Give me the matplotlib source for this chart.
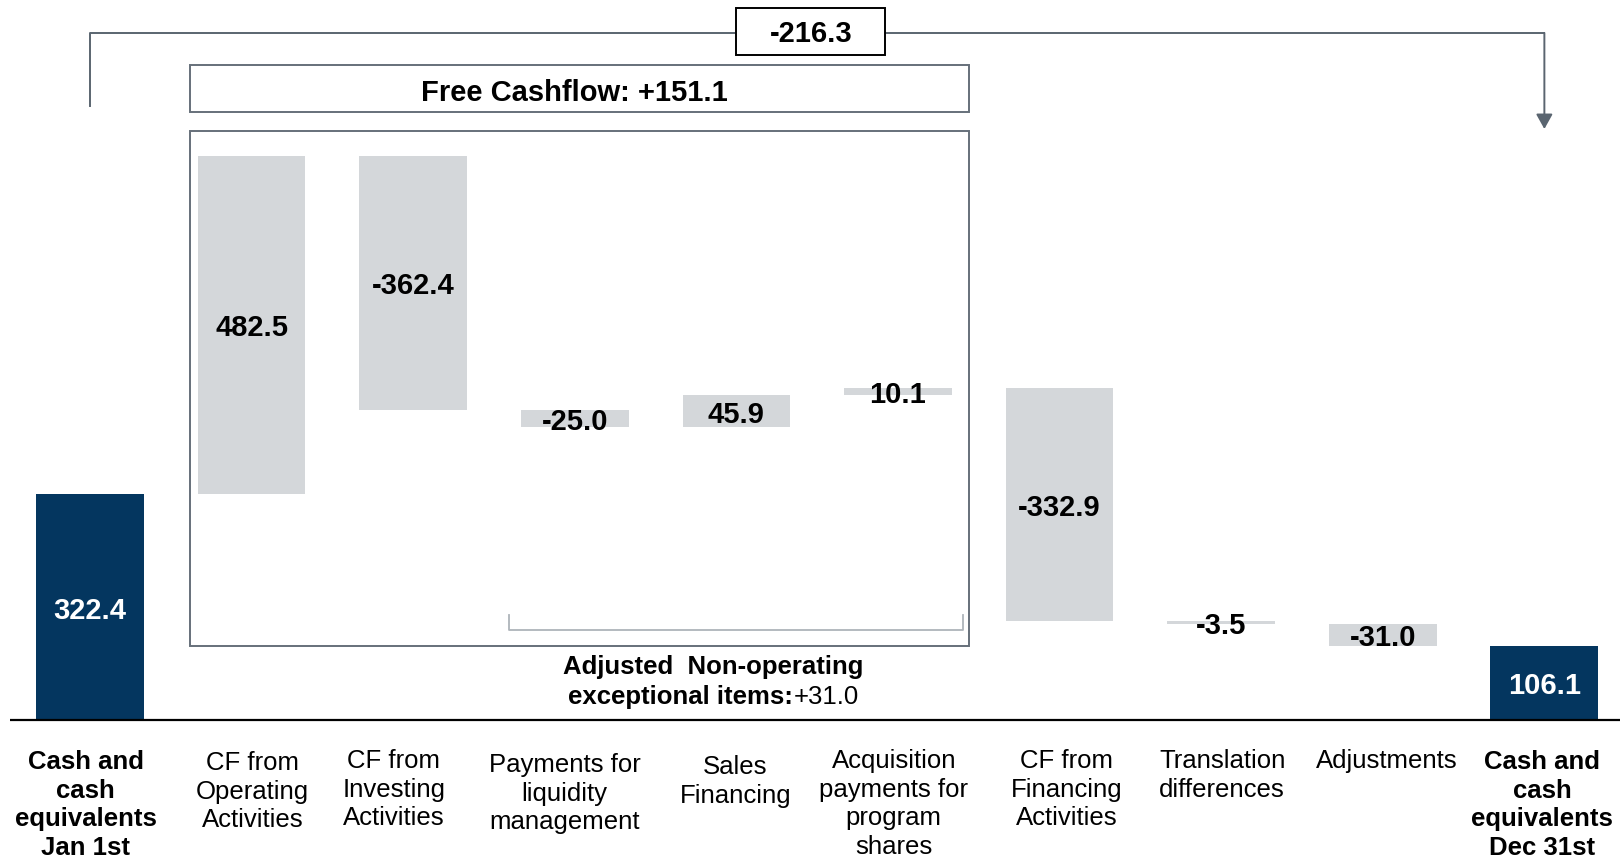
import numpy as np
import matplotlib
matplotlib.use("Agg")
import matplotlib.pyplot as plt
from matplotlib.patches import Rectangle

plt.rcParams['font.family'] = ['Liberation Sans', 'DejaVu Sans']

# ---- data ----
categories = [
    "Cash and\ncash\nequivalents\nJan 1st",
    "CF from\nOperating\nActivities",
    "CF from\nInvesting\nActivities",
    "Payments for\nliquidity\nmanagement",
    "Sales\nFinancing",
    "Acquisition\npayments for\nprogram\nshares",
    "CF from\nFinancing\nActivities",
    "Translation\ndifferences",
    "Adjustments",
    "Cash and\ncash\nequivalents\nDec 31st",
]
values = [322.4, 482.5, -362.4, -25.0, 45.9, 10.1, -332.9, -3.5, -31.0, 106.1]
is_total = [True, False, False, False, False, False, False, False, False, True]
free_cashflow = 151.1
non_operating = 31.0
net_change = -216.3

# ---- styles / layout ----
NAVY = "#04365F"
GREY = "#D4D7DA"
EDGE = "#66707A"
ARROW = "#5A6570"
BRACKET = "#AEB4BA"
label_dx = [-0.026, 0.006, -0.12, -0.064, -0.006, -0.026, 0.045, 0.006, 0.026, -0.013]
label_dy = [0, -1.5, 1.5, -4.5, -7.5, 1.5, 1.5, 1.5, 1.5, 0]

fig = plt.figure(figsize=(16.2, 8.61), dpi=100)
ax = fig.add_axes([0, 0, 1, 1])
ax.axis('off')
ax.set_xlim(-0.557, 9.468)
ax.set_ylim(-201, 1027)

# waterfall geometry
x = np.arange(len(values))
bottoms, heights, colors = [], [], []
running = 0.0
for v, tot in zip(values, is_total):
    if tot:
        bottoms.append(0.0)
        heights.append(v)
        colors.append(NAVY)
        running = v
    else:
        bottoms.append(running if v >= 0 else running + v)
        heights.append(abs(v))
        colors.append(GREY)
        running += v
bottoms = np.array(bottoms)
heights = np.array(heights)

W = 0.667
ax.bar(x, heights, bottom=bottoms, width=W, color=colors, zorder=2)

for xi, b, h, v, tot in zip(x, bottoms, heights, values, is_total):
    ax.text(xi, b + h / 2 - 5, f"{v:.1f}", ha='center', va='center',
            fontsize=21, fontweight='bold',
            color='white' if tot else 'black', zorder=5)

# baseline
ax.plot([-0.495, 9.468], [0, 0], color='black', lw=1.6, zorder=3, solid_capstyle='butt')

# category labels
for xi, lab, tot, dx, dy in zip(x, categories, is_total, label_dx, label_dy):
    ax.text(xi + dx, -43 + dy, lab, ha='center', va='top', fontsize=18.5,
            fontweight='bold' if tot else 'normal', linespacing=1.24)

# big box around operating / investing / non-operating
bx0, bx1 = 0.619, 5.44
ax.add_patch(Rectangle((bx0, 105.6), bx1 - bx0, 840 - 105.6, fill=False,
                       edgecolor=EDGE, lw=1.4, zorder=1))
# Free cashflow box
ax.add_patch(Rectangle((bx0, 867), bx1 - bx0, 934 - 867, facecolor='white',
                       edgecolor=EDGE, lw=1.4, zorder=1))
ax.text((bx0 + bx1) / 2 - 0.03, 895, f"Free Cashflow: {free_cashflow:+.1f}", ha='center',
        va='center', fontsize=21, fontweight='bold')

# bracket for non-operating items
ax.plot([2.593, 2.593, 5.40, 5.40], [150, 128, 128, 150], color=BRACKET, lw=1.3, zorder=1)
ax.text(3.855, 75, "Adjusted  Non-operating", ha='center', va='center',
        fontsize=18.5, fontweight='bold')
ax.text(4.35, 33, "exceptional items:", ha='right', va='center',
        fontsize=18.5, fontweight='bold')
ax.text(4.355, 33, f"{non_operating:+.1f}", ha='left', va='center',
        fontsize=18.5)

# top overall change bracket with arrow
ax.plot([0, 0, 9], [876, 980, 980], color=ARROW, lw=1.4, zorder=1)
ax.annotate('', xy=(9, 843), xytext=(9, 980),
            arrowprops=dict(arrowstyle='-|>,head_length=0.45,head_width=0.25',
                            mutation_scale=20, color=ARROW, lw=1.4,
                            shrinkA=0, shrinkB=0), zorder=1)
ax.add_patch(Rectangle((4.0, 949), 0.92, 1016 - 949, facecolor='white',
                       edgecolor='black', lw=1.4, zorder=4))
ax.text(4.46, 979, f"{net_change:.1f}", ha='center', va='center', fontsize=21,
        fontweight='bold', zorder=5)

fig.savefig("out.png", dpi=100)
